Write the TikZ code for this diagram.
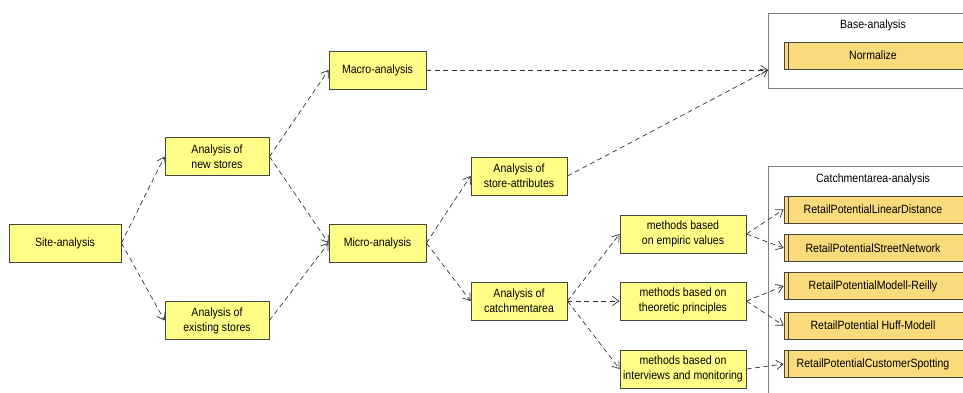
\documentclass[tikz,border=0pt]{standalone}
\usepackage{fontspec}
\setmainfont{Liberation Sans}[FakeStretch=0.88]
\usepackage{xcolor}
\usetikzlibrary{calc}
\usetikzlibrary{arrows.meta}

\definecolor{boxyellow}{HTML}{FFFF88}
\definecolor{baryellow}{HTML}{FADB7C}
\definecolor{edgegray}{HTML}{444444}

\tikzset{%
  task/.style={draw=edgegray,fill=boxyellow,line width=0.9pt,align=center,
    minimum height=38,inner sep=1pt,font=\fontsize{12}{15}\selectfont},
  bar/.style={draw=edgegray,fill=baryellow,line width=0.9pt,minimum height=27,
    minimum width=186,inner sep=1pt,font=\fontsize{12}{15}\selectfont},
  group/.style={draw=gray,line width=0.9pt,fill=white},
  flow/.style={draw=black!80,line width=0.7pt,dash pattern=on 5pt off 3.5pt,
    -{Straight Barb[angle=70:8pt]}}
}

\begin{document}
\begin{tikzpicture}[x=1pt,y=-1pt]
  \useasboundingbox (0,0) rectangle (963,392);
  \clip (0,0) rectangle (963,392);

  % groups on the right
  \draw[group] (768,13) rectangle (980,88);
  \node[font=\fontsize{12}{15}\selectfont] (basetitle) at (873,25) {Base-analysis};
  \draw[group] (768,166) rectangle (980,400);
  \node[font=\fontsize{12}{15}\selectfont] (catchtitle) at (873,179) {Catchmentarea-analysis};
  \coordinate (basein) at (768,70);

  % bars
  \node[bar] (normalize) at (877,55.5) {\hspace*{-8pt}Normalize};
  \node[bar] (lindist) at (877,209.5) {\hspace*{-8pt}RetailPotentialLinearDistance};
  \node[bar] (streetnet) at (877,248) {\hspace*{-8pt}RetailPotentialStreetNetwork};
  \node[bar] (reilly) at (877,286) {\hspace*{-8pt}RetailPotentialModell-Reilly};
  \node[bar] (huff) at (877,325.5) {\hspace*{-8pt}RetailPotential Huff-Modell};
  \node[bar] (spotting) at (877,364) {\hspace*{-8pt}RetailPotentialCustomerSpotting};
  \foreach \b in {normalize,lindist,streetnet,reilly,huff,spotting}
    \draw[edgegray,line width=0.9pt] %
      ($(\b.north west)+(5,0)$) -- ($(\b.south west)+(5,0)$);

  % tasks
  \node[task,minimum width=112] (site) at (65,243) {Site-analysis};
  \node[task,minimum width=104] (newstores) at (217,156.5) {Analysis of\\new stores};
  \node[task,minimum width=104] (existstores) at (217,320.5) {Analysis of\\existing stores};
  \node[task,minimum width=97] (macro) at (377.5,70) {Macro-analysis};
  \node[task,minimum width=97] (micro) at (377.5,243) {Micro-analysis};
  \node[task,minimum width=96] (storeattr) at (519,176) {Analysis of\\store-attributes};
  \node[task,minimum width=96] (catchment) at (519,301) {Analysis of\\catchmentarea};
  \node[task,minimum width=126] (empiric) at (683,234) {methods based\\on empiric values};
  \node[task,minimum width=126] (theoretic) at (683,301) {methods based on\\theoretic principles};
  \node[task,minimum width=126] (interviews) at (683,369) {methods based on\\interviews and monitoring};

  % flows
  \draw[flow] (site.east) -- (newstores.west);
  \draw[flow] (site.east) -- (existstores.west);
  \draw[flow] (newstores.east) -- (macro.west);
  \draw[flow] (newstores.east) -- (micro.west);
  \draw[flow] (existstores.east) -- (micro.west);
  \draw[flow] (macro.east) -- (basein);
  \draw[flow] (storeattr.east) -- (basein);
  \draw[flow] (micro.east) -- (storeattr.west);
  \draw[flow] (micro.east) -- (catchment.west);
  \draw[flow] (catchment.east) -- (empiric.west);
  \draw[flow] (catchment.east) -- (theoretic.west);
  \draw[flow] (catchment.east) -- (interviews.west);
  \draw[flow] (empiric.east) -- (lindist.west);
  \draw[flow] (empiric.east) -- (streetnet.west);
  \draw[flow] (theoretic.east) -- (reilly.west);
  \draw[flow] (theoretic.east) -- (huff.west);
  \draw[flow] (interviews.east) -- (spotting.west);

\end{tikzpicture}
\end{document}
